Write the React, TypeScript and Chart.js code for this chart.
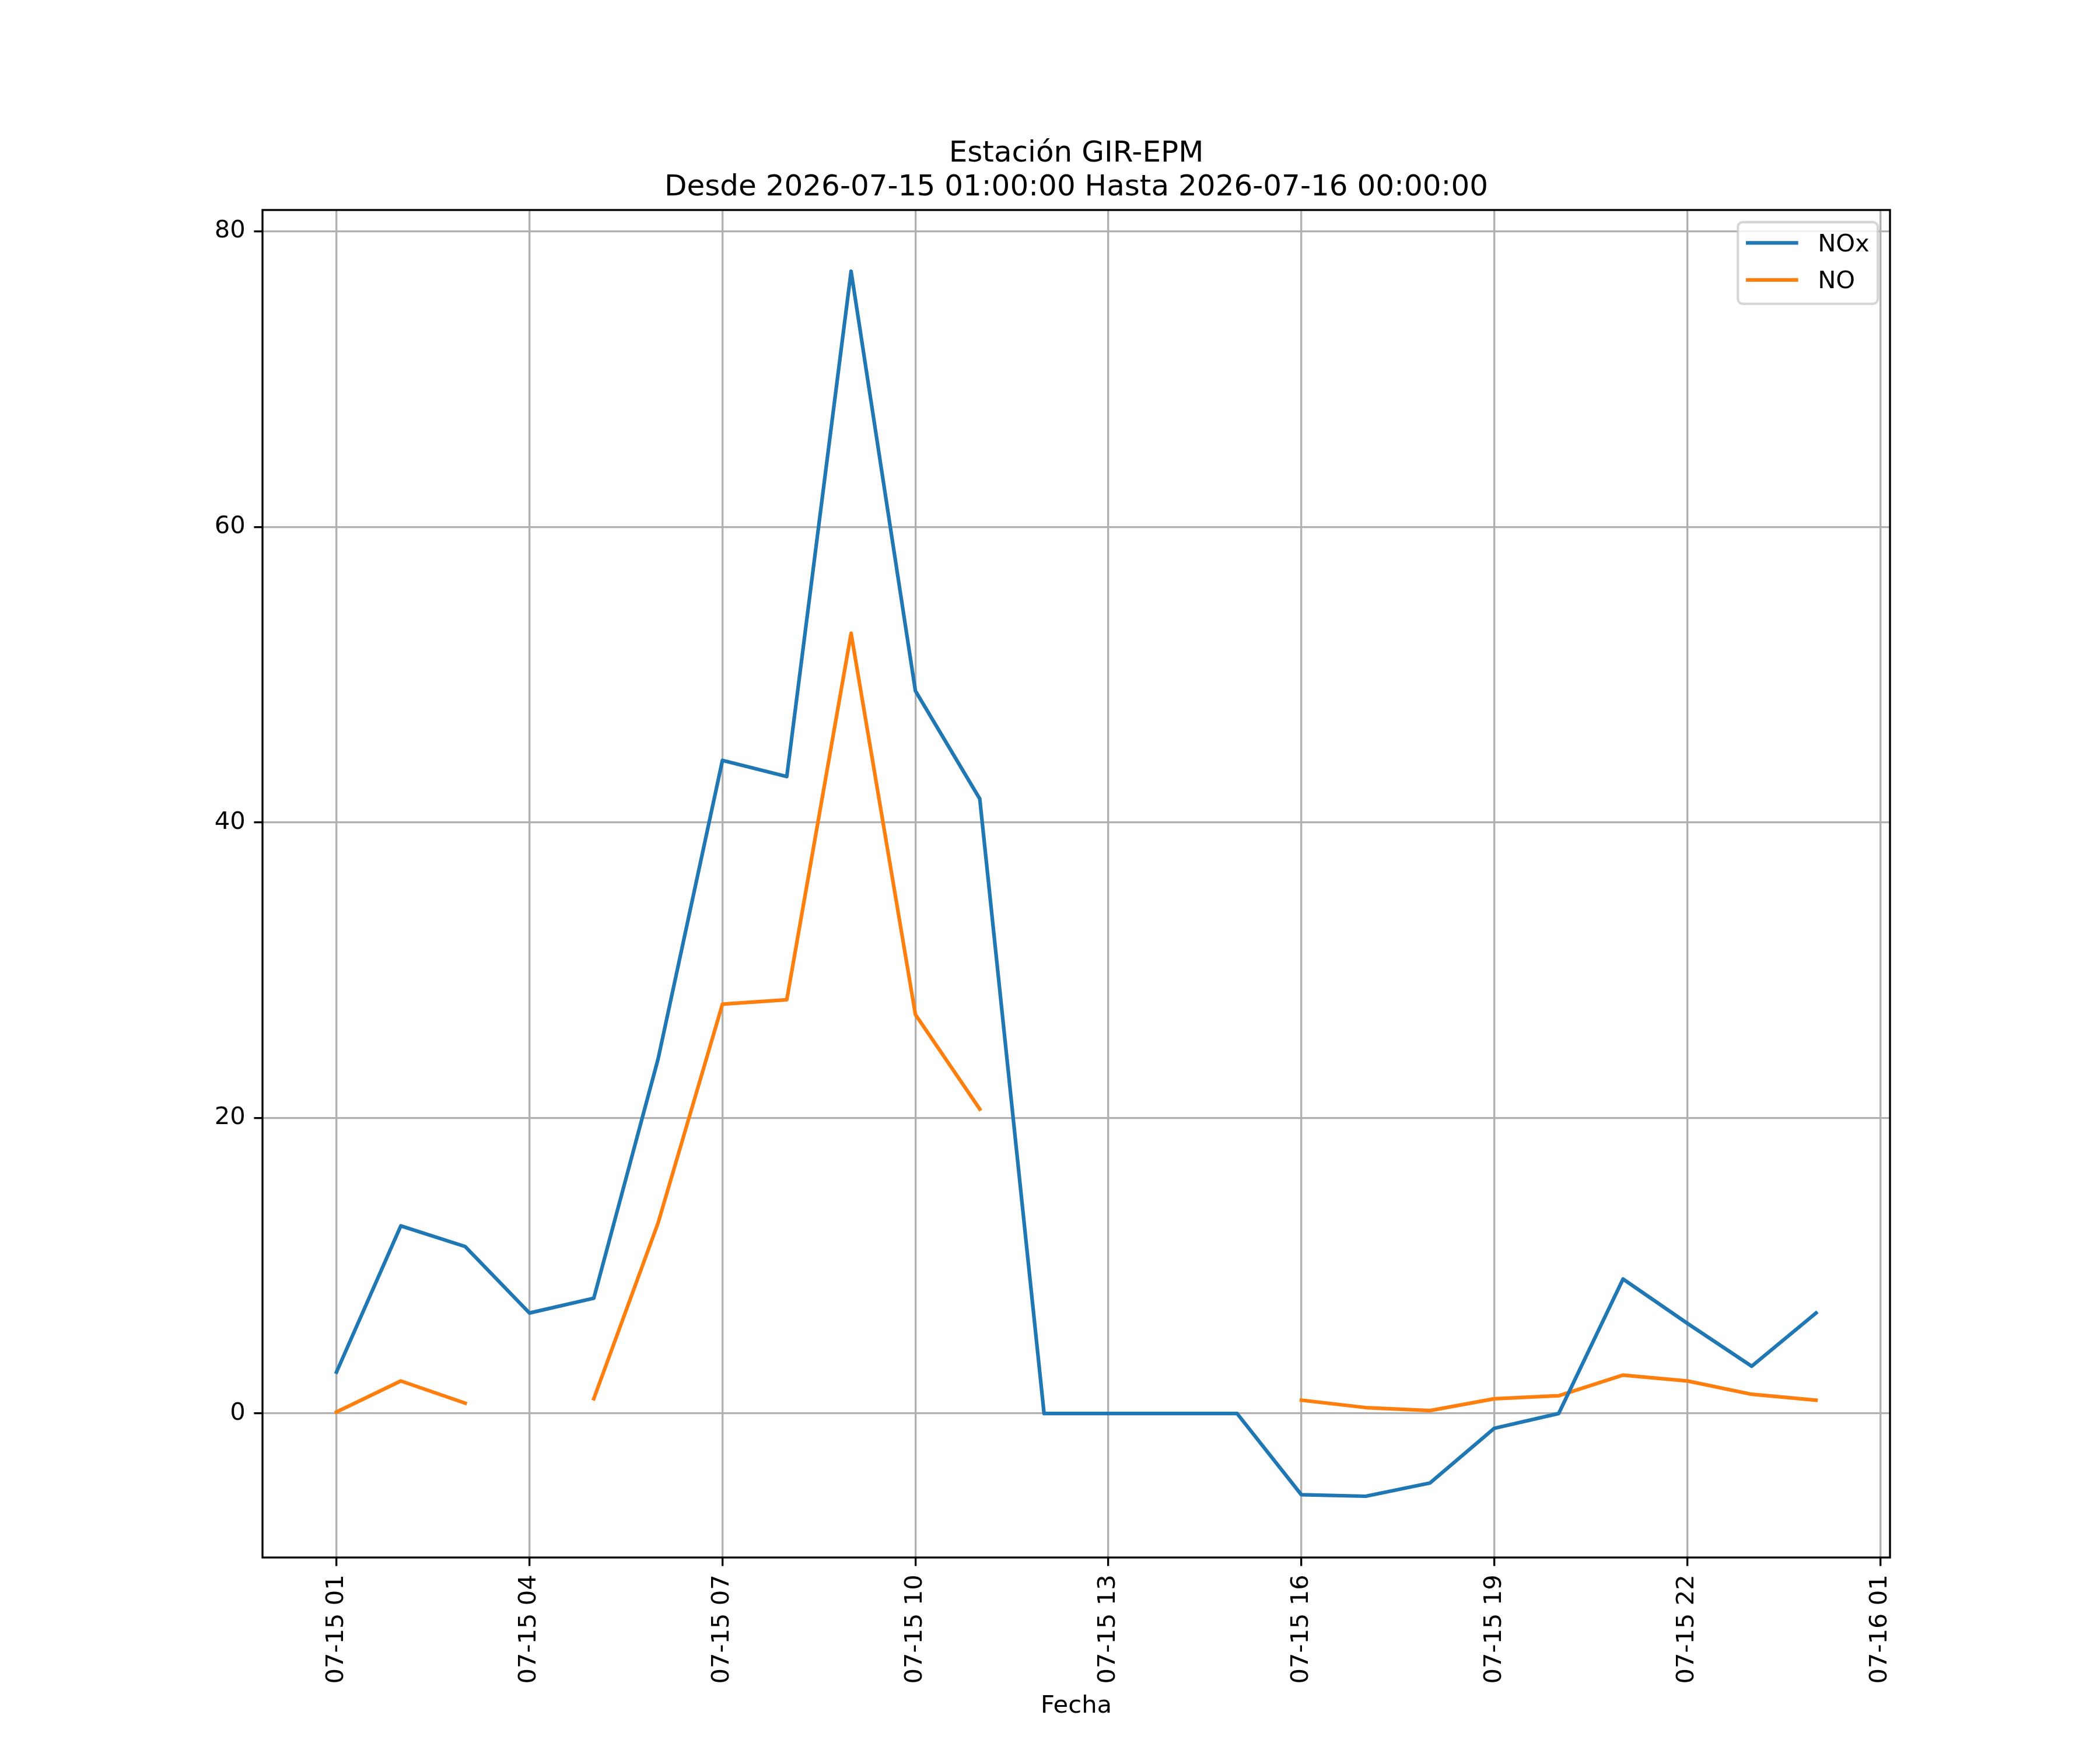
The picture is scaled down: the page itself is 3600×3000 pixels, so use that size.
import { useEffect, useRef } from "react";
import { Chart, registerables } from "chart.js";

Chart.register(...registerables);

// hours after 2026-07-15 00:00 (1 = 07-15 01:00, 24 = 07-16 00:00)
const hours = [1, 2, 3, 4, 5, 6, 7, 8, 9, 10, 11, 12, 13, 14, 15, 16, 17, 18, 19, 20, 21, 22, 23, 24];

const noxValues = [
  2.8, 12.7, 11.3, 6.8, 7.8, 24.0, 44.2, 43.1, 77.3, 48.9, 41.6, 0,
  0, 0, 0, -5.5, -5.6, -4.7, -1.0, 0, 9.1, 6.1, 3.2, 6.8,
];

const noValues: (number | null)[] = [
  0.1, 2.2, 0.7, null, 1.0, 12.9, 27.7, 28.0, 52.8, 27.0, 20.6, null,
  null, null, null, 0.9, 0.4, 0.2, 1.0, 1.2, 2.6, 2.2, 1.3, 0.9,
];

const xTickHours = [1, 4, 7, 10, 13, 16, 19, 22, 25];
const xTickLabels = [
  "07-15 01", "07-15 04", "07-15 07", "07-15 10", "07-15 13",
  "07-15 16", "07-15 19", "07-15 22", "07-16 01",
];
const yTicks = [0, 20, 40, 60, 80];

const titleLines = ["Estación GIR-EPM", "Desde 2026-07-15 01:00:00 Hasta 2026-07-16 00:00:00"];
const seriesNames = ["NOx", "NO"];
const seriesColors = ["#1f77b4", "#ff7f0e"];

const PT = 300 / 72;
const FONT = "DejaVu Sans";
const GRID = "#b0b0b0";

export default function App() {
  const ref = useRef<HTMLCanvasElement>(null);

  useEffect(() => {
    if (!ref.current) return;

    const all = [...noxValues, ...noValues].filter((v) => v !== null) as number[];
    const vMax = Math.max(...all);
    const vMin = Math.min(...all);
    const yPad = (vMax - vMin) * 0.05;
    const xSpan = hours[hours.length - 1] - hours[0];

    const figure = {
      id: "figure",
      beforeDraw(chart: Chart) {
        const ctx = chart.ctx;
        ctx.save();
        ctx.fillStyle = "#fff";
        ctx.fillRect(0, 0, chart.width, chart.height);
        ctx.restore();
      },
      afterDatasetsDraw(chart: Chart) {
        const { ctx, chartArea: a } = chart;
        ctx.save();
        ctx.strokeStyle = "#000";
        ctx.lineWidth = 0.8 * PT;
        ctx.lineJoin = "miter";
        ctx.strokeRect(a.left, a.top, a.right - a.left, a.bottom - a.top);
        ctx.restore();
      },
      afterDraw(chart: Chart) {
        const { ctx, chartArea: a } = chart;
        ctx.save();
        // title
        ctx.fillStyle = "#000";
        ctx.font = `${12 * PT}px "${FONT}"`;
        ctx.textAlign = "center";
        ctx.textBaseline = "alphabetic";
        const cx = (a.left + a.right) / 2;
        ctx.fillText(titleLines[0], cx, a.top - 6 * PT - 58);
        ctx.fillText(titleLines[1], cx, a.top - 6 * PT);

        // legend
        const fs = 10 * PT;
        const w = 240;
        const h = 140;
        const left = a.right - 0.5 * fs - w;
        const top = a.top + 0.5 * fs;
        ctx.beginPath();
        ctx.roundRect(left, top, w, h, 0.2 * fs);
        ctx.fillStyle = "rgba(255,255,255,0.8)";
        ctx.fill();
        ctx.strokeStyle = "rgba(204,204,204,0.8)";
        ctx.lineWidth = 1 * PT;
        ctx.stroke();

        ctx.font = `${fs}px "${FONT}"`;
        ctx.textAlign = "left";
        seriesNames.forEach((name, i) => {
          const ly = top + 35.5 + i * 63.5;
          ctx.beginPath();
          ctx.moveTo(left + 17, ly);
          ctx.lineTo(left + 17 + 2 * fs, ly);
          ctx.strokeStyle = seriesColors[i];
          ctx.lineWidth = 1.5 * PT;
          ctx.lineCap = "square";
          ctx.stroke();
          ctx.fillStyle = "#000";
          ctx.fillText(name, left + 137, ly + 14.5);
        });
        ctx.restore();
      },
    };

    const chart = new Chart(ref.current, {
      type: "line",
      data: {
        datasets: [
          {
            label: seriesNames[0],
            data: hours.map((h, i) => ({ x: h, y: noxValues[i] })),
            borderColor: seriesColors[0],
          },
          {
            label: seriesNames[1],
            data: hours.map((h, i) => ({ x: h, y: noValues[i] })),
            borderColor: seriesColors[1],
          },
        ],
      },
      options: {
        animation: false,
        responsive: false,
        devicePixelRatio: 1,
        layout: { padding: { left: 300, right: 360, top: 360, bottom: 30 } },
        elements: {
          point: { radius: 0, hoverRadius: 0 },
          line: {
            borderWidth: 1.5 * PT,
            tension: 0,
            borderJoinStyle: "round",
            borderCapStyle: "square",
            fill: false,
          },
        },
        plugins: {
          legend: { display: false },
          title: { display: false },
          tooltip: { enabled: false },
        },
        scales: {
          x: {
            type: "linear",
            min: hours[0] - xSpan * 0.05,
            max: hours[hours.length - 1] + xSpan * 0.05,
            afterFit: (s) => {
              s.height = 300;
            },
            afterBuildTicks: (s) => {
              s.ticks = xTickHours.map((v) => ({ value: v }));
            },
            grid: {
              color: GRID,
              lineWidth: 0.8 * PT,
              tickColor: "#000",
              tickWidth: 0.8 * PT,
              tickLength: 3.5 * PT,
            },
            border: { display: false },
            ticks: {
              autoSkip: false,
              minRotation: 90,
              maxRotation: 90,
              padding: 3.5 * PT,
              color: "#000",
              font: { family: FONT, size: 10 * PT },
              callback: (v) => xTickLabels[xTickHours.indexOf(Number(v))] ?? "",
            },
            title: {
              display: true,
              text: "Fecha",
              color: "#000",
              font: { family: FONT, size: 10 * PT },
              padding: { top: 0, bottom: 20 },
            },
          },
          y: {
            type: "linear",
            min: vMin - yPad,
            max: vMax + yPad,
            afterFit: (s) => {
              s.width = 150;
            },
            afterBuildTicks: (s) => {
              s.ticks = yTicks.map((v) => ({ value: v }));
            },
            grid: {
              color: GRID,
              lineWidth: 0.8 * PT,
              tickColor: "#000",
              tickWidth: 0.8 * PT,
              tickLength: 3.5 * PT,
            },
            border: { display: false },
            ticks: {
              padding: 3.5 * PT,
              color: "#000",
              font: { family: FONT, size: 10 * PT },
            },
          },
        },
      },
      plugins: [figure],
    });

    return () => {
      chart.destroy();
    };
  }, []);

  return (
    <div style={{ position: "absolute", left: 0, top: 0, width: 3600, height: 3000, background: "#fff" }}>
      <canvas ref={ref} width={3600} height={3000} style={{ display: "block", width: 3600, height: 3000 }} />
    </div>
  );
}
